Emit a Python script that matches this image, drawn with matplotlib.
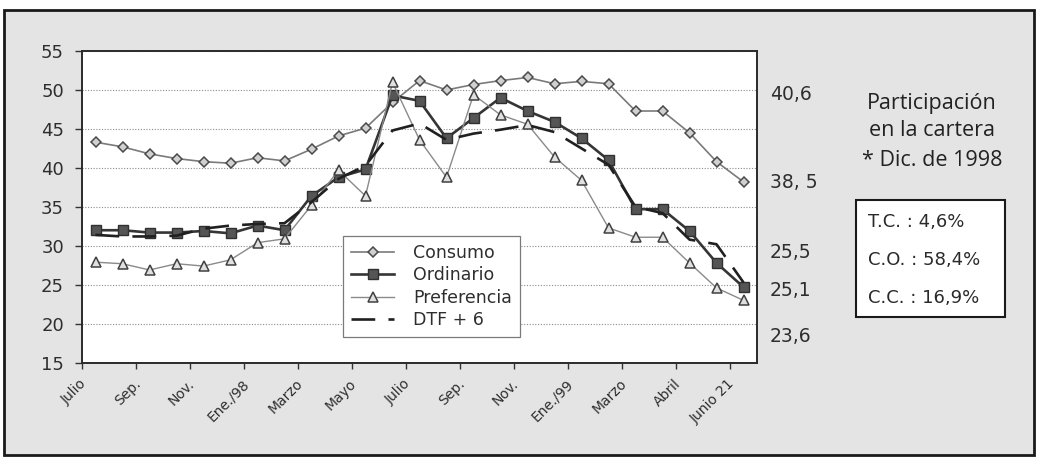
import numpy as np
import matplotlib
matplotlib.use("Agg")
import matplotlib.pyplot as plt
from matplotlib.patches import Rectangle
from matplotlib.transforms import ScaledTranslation

# Monthly interest rates (%), July 1997 - July 1999
etiquetas_x = ["Julio", "Sep.", "Nov.", "Ene./98", "Marzo", "Mayo", "Julio",
               "Sep.", "Nov.", "Ene./99", "Marzo", "Abril", "Junio 21"]

consumo = [43.3, 42.7, 41.8, 41.2, 40.8, 40.6, 41.3, 40.9, 42.4, 44.1, 45.1,
           48.4, 51.2, 50.0, 50.7, 51.2, 51.6, 50.8, 51.1, 50.8, 47.3, 47.3,
           44.5, 40.8, 38.2]
ordinario = [32.0, 32.0, 31.7, 31.7, 31.9, 31.6, 32.6, 32.0, 36.4, 38.8, 39.8,
             49.3, 48.6, 43.8, 46.4, 49.0, 47.3, 45.9, 43.8, 41.0, 34.7, 34.7,
             31.9, 27.8, 24.7]
preferencia = [27.9, 27.7, 26.9, 27.7, 27.4, 28.2, 30.4, 30.9, 35.2, 39.7, 36.4,
               51.0, 43.6, 38.8, 49.4, 46.8, 45.6, 41.4, 38.4, 32.3, 31.1, 31.1,
               27.8, 24.6, 23.0]
dtf_mas_6 = [31.4, 31.2, 31.2, 31.3, 32.2, 32.6, 32.8, 32.9, 35.6, 38.6, 40.3,
             44.8, 45.7, 43.6, 44.4, 44.9, 45.5, 44.6, 42.5, 40.4, 35.0, 34.2,
             30.8, 30.2, 25.3]

tasas_finales = ["40,6", "38, 5", "25,5", "25,1", "23,6"]
titulo_lateral = ["Participación", "en la cartera", "* Dic. de 1998"]
participacion = ["T.C. : 4,6%", "C.O. : 58,4%", "C.C. : 16,9%"]

W, H = 1038, 459
fig = plt.figure(figsize=(W / 100, H / 100), dpi=100, facecolor="white")


def fx(px):
    return px / W


def fy(py):
    return 1 - py / H


# grey card behind everything
card = Rectangle((fx(4), fy(455)), fx(1034) - fx(4), fy(10) - fy(455),
                 transform=fig.transFigure, facecolor="#e4e4e4",
                 edgecolor="#1a1a1a", lw=2.0, zorder=-10)
fig.add_artist(card)

ax = fig.add_axes([fx(82), fy(362.7), fx(757) - fx(82), fy(51) - fy(362.7)])
ax.set_facecolor("white")

x = np.arange(len(consumo))
ax.plot(x, consumo, color="#7a7a7a", lw=1.2, marker="D", ms=5.5,
        mfc="#d0d0d0", mec="#4a4a4a", mew=1.1, label="Consumo", zorder=3)
ax.plot(x, ordinario, color="#353535", lw=1.9, marker="s", ms=7,
        mfc="#555555", mec="#303030", mew=1.0, label="Ordinario", zorder=4)
ax.plot(x, preferencia, color="#8a8a8a", lw=1.0, marker="^", ms=7,
        mfc="#e0e0e0", mec="#404040", mew=1.1, label="Preferencia", zorder=5)
ax.plot(x, dtf_mas_6, color="#202020", lw=1.9, ls=(0, (9, 5)),
        label="DTF + 6", zorder=6)

ax.set_xlim(-0.5, len(consumo) - 0.5)
ax.set_ylim(15, 55)
ax.set_yticks(np.arange(15, 56, 5))
ax.yaxis.grid(True, linestyle=(0, (1, 1.5)), color="#8c8c8c", lw=0.8)
ax.set_axisbelow(True)

for s in ax.spines.values():
    s.set_color("#2a2a2a")
    s.set_linewidth(1.4)

ax.tick_params(axis="y", direction="out", length=5, width=1, color="#333333",
               pad=8, labelsize=13, labelcolor="#2e2e2e")

# category labels every two months, tick marks between categories
ax.set_xticks(np.arange(0, len(consumo), 2))
ax.set_xticklabels(etiquetas_x, rotation=45, ha="right", va="top",
                   fontsize=10, color="#2e2e2e")
ax.set_xticks(np.arange(-0.5, len(consumo) - 0.5, 2), minor=True)
ax.tick_params(axis="x", which="major", length=0, pad=10)
ax.tick_params(axis="x", which="minor", direction="out", length=4, width=1,
               color="#333333")
shift = ScaledTranslation(-6 / 100, 0, fig.dpi_scale_trans)
for lbl in ax.get_xticklabels():
    lbl.set_transform(lbl.get_transform() + shift)

leg = ax.legend(loc="upper left", bbox_to_anchor=(fx(343), fy(236)),
                bbox_transform=fig.transFigure, borderaxespad=0,
                fontsize=12.5, handlelength=2.5, handletextpad=1.1,
                labelspacing=0.26, borderpad=0.45, fancybox=False,
                framealpha=1, edgecolor="#7a7a7a")
leg.get_frame().set_linewidth(0.9)
for t in leg.get_texts():
    t.set_color("#2e2e2e")

# final rates next to the plot
for txt, py in zip(tasas_finales, [95, 182, 253, 290, 337]):
    fig.text(fx(770), fy(py), txt, ha="left", va="center", fontsize=13.5,
             color="#2e2e2e")

for txt, py in zip(titulo_lateral, [103, 131, 160]):
    fig.text(fx(932), fy(py), txt, ha="center", va="center", fontsize=15.5,
             family="Open Sans", color="#222222")

box = Rectangle((fx(856), fy(317)), fx(1005) - fx(856), fy(200) - fy(317),
                transform=fig.transFigure, facecolor="white",
                edgecolor="#1a1a1a", lw=1.5, zorder=1)
fig.add_artist(box)
for txt, py in zip(participacion, [222, 260, 298]):
    fig.text(fx(868), fy(py), txt, ha="left", va="center", fontsize=13,
             color="#2a2a2a", zorder=2)

fig.savefig("out.png", dpi=100, facecolor=fig.get_facecolor())
